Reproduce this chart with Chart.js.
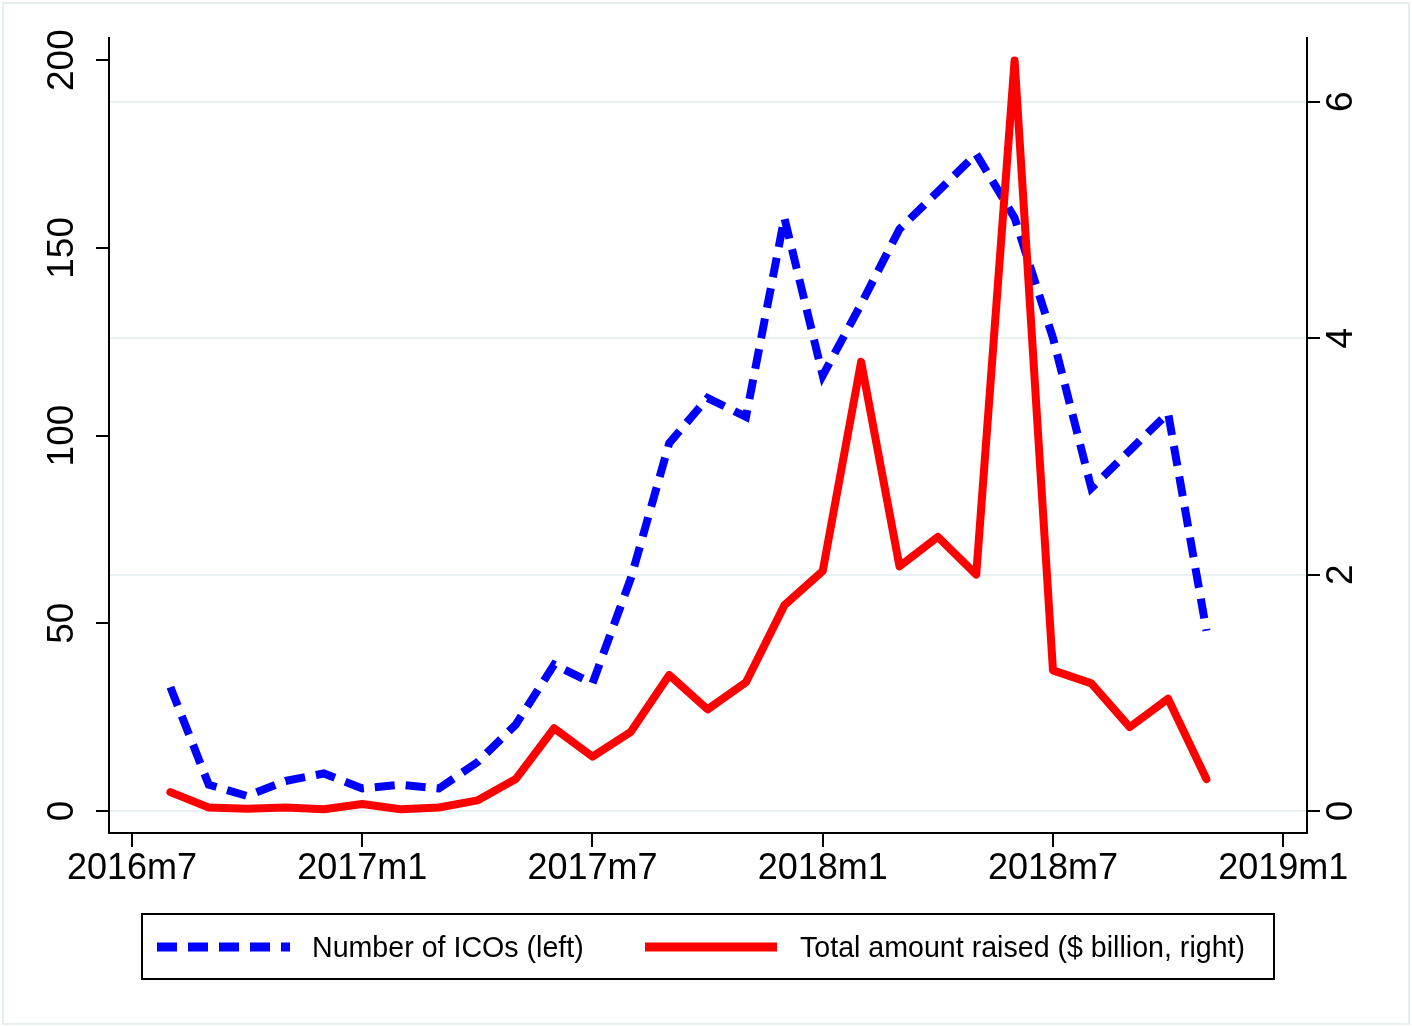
<!DOCTYPE html>
<html>
<head>
<meta charset="utf-8">
<script src="https://cdn.jsdelivr.net/npm/chart.js@4.4.0/dist/chart.umd.min.js"></script>
<style>
  html, body { margin: 0; padding: 0; background: #fff; }
  #wrap { width: 1412px; height: 1026px; position: relative; }
</style>
</head>
<body>
<div id="wrap"><canvas id="icoChart"></canvas></div>
<script>
// monthly observations, 2016m8 .. 2018m11
const months = [
  '2016m8', '2016m9', '2016m10', '2016m11', '2016m12',
  '2017m1', '2017m2', '2017m3', '2017m4', '2017m5', '2017m6',
  '2017m7', '2017m8', '2017m9', '2017m10', '2017m11', '2017m12',
  '2018m1', '2018m2', '2018m3', '2018m4', '2018m5', '2018m6',
  '2018m7', '2018m8', '2018m9', '2018m10', '2018m11'
];
const icoCount = [
  33, 7, 4, 8, 10,
  6, 7, 6, 13, 23, 39,
  34, 62, 98, 110, 105, 158,
  116, 135, 155, 165, 175, 158,
  126, 86, 96, 106, 48
];
const amountRaised = [
  0.16, 0.03, 0.02, 0.03, 0.015,
  0.06, 0.015, 0.03, 0.09, 0.27, 0.70,
  0.46, 0.67, 1.15, 0.86, 1.09, 1.74,
  2.03, 3.80, 2.07, 2.32, 2.00, 6.35,
  1.19, 1.08, 0.71, 0.95, 0.27
];
const xTickLabels = ['2016m7', '2017m1', '2017m7', '2018m1', '2018m7', '2019m1'];
const leftTicks = [0, 50, 100, 150, 200];
const rightTicks = [0, 2, 4, 6];
const seriesLabels = ['Number of ICOs (left)', 'Total amount raised ($ billion, right)'];

const FONT = '"Liberation Sans", Arial, Helvetica, sans-serif';

// months since 2016m7
function monthIndex(label) {
  const [y, m] = label.split('m').map(Number);
  return (y - 2016) * 12 + (m - 7);
}

function setTicks(values) {
  return scale => { scale.ticks = values.map(v => ({ value: v })); };
}

const frame = {
  id: 'frame',
  beforeDraw(chart) {
    const ctx = chart.ctx;
    ctx.save();
    ctx.fillStyle = '#fff';
    ctx.fillRect(0, 0, chart.width, chart.height);
    ctx.strokeStyle = '#e6eef1';
    ctx.lineWidth = 2;
    ctx.strokeRect(3, 3, chart.width - 6, chart.height - 5);
    ctx.restore();
  }
};

// stata-style legend box under the plot
const boxLegend = {
  id: 'boxLegend',
  afterDraw(chart) {
    const ctx = chart.ctx;
    const ds = chart.data.datasets;
    ctx.save();
    ctx.strokeStyle = '#000';
    ctx.lineWidth = 2;
    ctx.strokeRect(142, 914, 1132, 65);
    const items = [
      { d: ds[0], x0: 157, x1: 290, tx: 312 },
      { d: ds[1], x0: 645, x1: 777, tx: 800 }
    ];
    items.forEach(it => {
      ctx.beginPath();
      ctx.setLineDash(it.d.borderDash || []);
      ctx.lineCap = 'butt';
      ctx.lineWidth = 9;
      ctx.strokeStyle = it.d.borderColor;
      ctx.moveTo(it.x0, 947);
      ctx.lineTo(it.x1, 947);
      ctx.stroke();
      ctx.setLineDash([]);
      ctx.fillStyle = '#000';
      ctx.font = '28.6px ' + FONT;
      ctx.textBaseline = 'alphabetic';
      ctx.textAlign = 'left';
      ctx.fillText(it.d.label, it.tx, 957);
    });
    ctx.restore();
  }
};

const axisLine = { color: '#000', width: 2 };

new Chart(document.getElementById('icoChart'), {
  type: 'line',
  data: {
    datasets: [
      {
        label: seriesLabels[0],
        data: months.map((m, i) => ({ x: monthIndex(m), y: icoCount[i] })),
        yAxisID: 'y',
        borderColor: '#0000ff',
        borderWidth: 8,
        borderDash: [20, 11],
        borderCapStyle: 'butt',
        borderJoinStyle: 'miter',
        pointRadius: 0,
        tension: 0,
        fill: false,
        order: 1
      },
      {
        label: seriesLabels[1],
        data: months.map((m, i) => ({ x: monthIndex(m), y: amountRaised[i] })),
        yAxisID: 'y1',
        borderColor: '#ff0000',
        borderWidth: 8,
        borderCapStyle: 'round',
        borderJoinStyle: 'round',
        pointRadius: 0,
        tension: 0,
        fill: false,
        order: 0
      }
    ]
  },
  options: {
    responsive: true,
    maintainAspectRatio: false,
    animation: false,
    layout: { padding: { top: 38, left: 0, right: 0, bottom: 133 } },
    plugins: {
      legend: { display: false },
      tooltip: { enabled: false }
    },
    scales: {
      x: {
        type: 'linear',
        min: -0.6,
        max: 30.62,
        afterBuildTicks: setTicks(xTickLabels.map(monthIndex)),
        afterFit: s => { s.height = 60; },
        ticks: {
          callback: (v, i) => xTickLabels[i],
          autoSkip: false,
          maxRotation: 0,
          padding: 0,
          color: '#000',
          font: { family: FONT, size: 36 }
        },
        grid: { drawOnChartArea: false, color: '#000', lineWidth: 2, tickLength: 14 },
        border: axisLine
      },
      y: {
        position: 'left',
        min: -5.86,
        max: 205.9,
        afterBuildTicks: setTicks(leftTicks),
        afterFit: s => { s.width = 109; },
        ticks: {
          minRotation: 90,
          maxRotation: 90,
          crossAlign: 'center',
          padding: 2.6,
          color: '#000',
          font: { family: FONT, size: 37 }
        },
        grid: { drawOnChartArea: false, color: '#000', lineWidth: 2, tickLength: 13 },
        border: axisLine
      },
      y1: {
        position: 'right',
        min: -0.186,
        max: 6.54,
        afterBuildTicks: setTicks(rightTicks),
        afterFit: s => { s.width = 105; },
        ticks: {
          minRotation: 90,
          maxRotation: 90,
          crossAlign: 'center',
          padding: 11.2,
          color: '#000',
          font: { family: FONT, size: 37 }
        },
        grid: { color: '#eaf1f3', lineWidth: 2, tickColor: '#000', tickWidth: 2, tickLength: 13 },
        border: axisLine
      }
    }
  },
  plugins: [frame, boxLegend]
});
</script>
</body>
</html>
